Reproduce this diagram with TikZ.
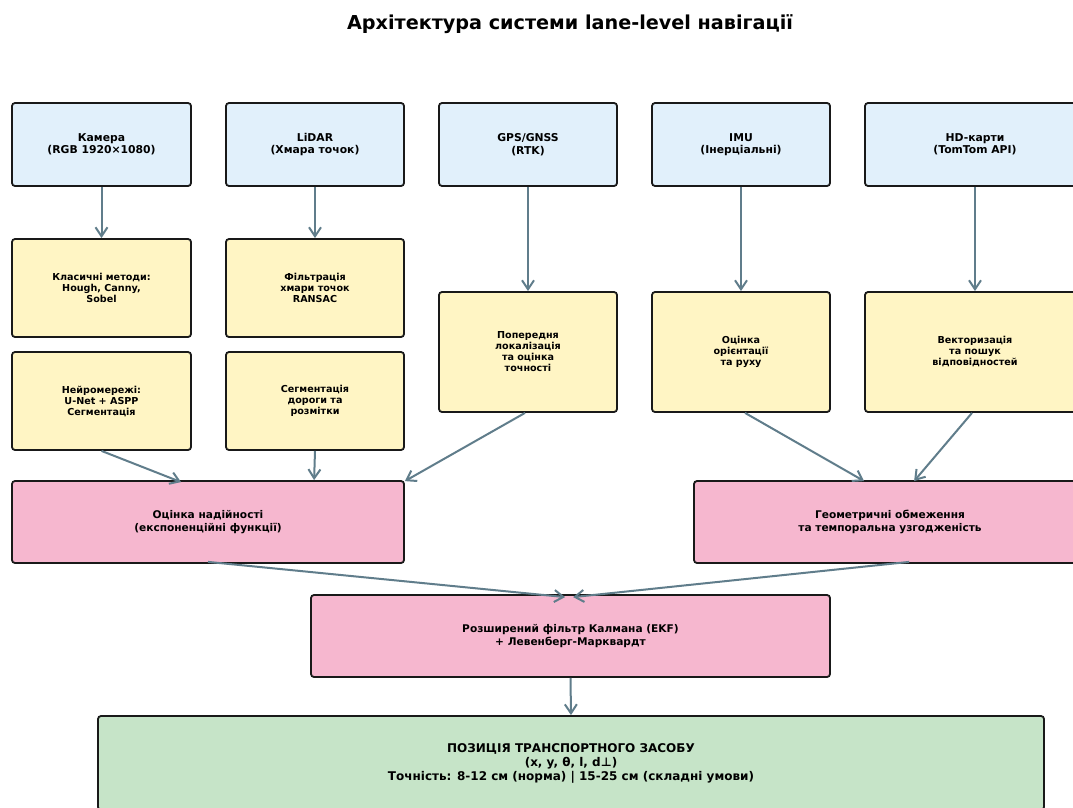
\documentclass[tikz,border=0pt]{standalone}
\usepackage{fontspec}
\setmainfont{DejaVu Sans}
\usetikzlibrary{arrows.meta,calc}
\definecolor{cblue}{HTML}{E1F0FB}
\definecolor{cyell}{HTML}{FFF5C4}
\definecolor{cpink}{HTML}{F6B7CF}
\definecolor{cgreen}{HTML}{C6E4C8}
\definecolor{carrow}{HTML}{607D8B}
\tikzset{
  box/.style={draw=black!90, line width=1.8pt, rounded corners=3pt, align=center, font=\bfseries, inner sep=0pt},
  bluebox/.style={box, fill=cblue, font=\fontsize{10.8}{12.5}\selectfont\bfseries},
  yellbox/.style={box, fill=cyell, font=\fontsize{9.6}{11}\selectfont\bfseries},
  pinkbox/.style={box, fill=cpink, font=\fontsize{10.6}{12.5}\selectfont\bfseries},
  greenbox/.style={box, fill=cgreen, font=\fontsize{12}{14}\selectfont\bfseries},
  flow/.style={draw=carrow, line width=2pt, -{Straight Barb[length=9pt,width=12pt,line width=2pt]}},
}
\begin{document}
\begin{tikzpicture}[x=1pt,y=-1pt]
\clip (0,0) rectangle (1073,808);
\useasboundingbox (0,0) rectangle (1073,808);
\fill[white] (0,0) rectangle (1073,808);
\node[font=\fontsize{19.2}{22}\selectfont\bfseries] (title) at (570,24) {Архітектура системи lane-level навігації};
% row 1
\node[bluebox, minimum width=179pt, minimum height=83pt] (cam) at (101.5,144.5) {Камера\\(RGB 1920×1080)};
\node[bluebox, minimum width=178pt, minimum height=83pt] (lidar) at (315,144.5) {LiDAR\\(Хмара точок)};
\node[bluebox, minimum width=178pt, minimum height=83pt] (gps) at (528,144.5) {GPS/GNSS\\(RTK)};
\node[bluebox, minimum width=178pt, minimum height=83pt] (imu) at (741,144.5) {IMU\\(Інерціальні)};
\node[bluebox, minimum width=220pt, minimum height=83pt] (hd) at (975,144.5) {HD-карти\\(TomTom API)};
% row 2
\node[yellbox, minimum width=179pt, minimum height=98pt] (classic) at (101.5,288) {Класичні методи:\\Hough, Canny,\\Sobel};
\node[yellbox, minimum width=178pt, minimum height=98pt] (filt) at (315,288) {Фільтрація\\хмари точок\\RANSAC};
\node[yellbox, minimum width=179pt, minimum height=98pt] (neural) at (101.5,401) {Нейромережі:\\U-Net + ASPP\\Сегментація};
\node[yellbox, minimum width=178pt, minimum height=98pt] (seg) at (315,401) {Сегментація\\дороги та\\розмітки};
\node[yellbox, minimum width=178pt, minimum height=120pt] (prelim) at (528,352) {Попередня\\локалізація\\та оцінка\\точності};
\node[yellbox, minimum width=178pt, minimum height=120pt] (orient) at (741,352) {Оцінка\\орієнтації\\та руху};
\node[yellbox, minimum width=220pt, minimum height=120pt] (vect) at (975,352) {Векторизація\\та пошук\\відповідностей};
% row 3
\node[pinkbox, minimum width=392pt, minimum height=82pt] (rel) at (208,522) {Оцінка надійності\\(експоненційні функції)};
\node[pinkbox, minimum width=392pt, minimum height=82pt] (geo) at (890,522) {Геометричні обмеження\\та темпоральна узгодженість};
\node[pinkbox, minimum width=519pt, minimum height=82pt] (ekf) at (570.5,636) {Розширений фільтр Калмана (EKF)\\+ Левенберг-Марквардт};
\node[greenbox, minimum width=946pt, minimum height=94pt] (pos) at (571,763) {ПОЗИЦІЯ ТРАНСПОРТНОГО ЗАСОБУ\\(x, y, θ, l, d⊥)\\Точність: 8-12 см (норма) | 15-25 см (складні умови)};
% arrows
\draw[flow] (cam.south) -- (classic.north);
\draw[flow] (lidar.south) -- (filt.north);
\draw[flow] (gps.south) -- (prelim.north);
\draw[flow] (imu.south) -- (orient.north);
\draw[flow] (hd.south) -- (vect.north);
\draw[flow] (neural.south) -- ([xshift=170pt,yshift=-2pt]rel.north west);
\draw[flow] (seg.south) -- ([xshift=303pt]rel.north west);
\draw[flow] ([xshift=-3pt]prelim.south) -- ([yshift=-1pt]rel.north east);
\draw[flow] ([xshift=4pt]orient.south) -- ([xshift=171pt,yshift=-1pt]geo.north west);
\draw[flow] ([xshift=-3pt]vect.south) -- ([xshift=221pt,yshift=-1pt]geo.north west);
\draw[flow] ([yshift=2pt]rel.south) -- ([xshift=255pt,yshift=-3pt]ekf.north west);
\draw[flow] ([xshift=216pt,yshift=2pt]geo.south west) -- ([xshift=263pt,yshift=-3pt]ekf.north west);
\draw[flow] (ekf.south) -- (pos.north);
\end{tikzpicture}
\end{document}
